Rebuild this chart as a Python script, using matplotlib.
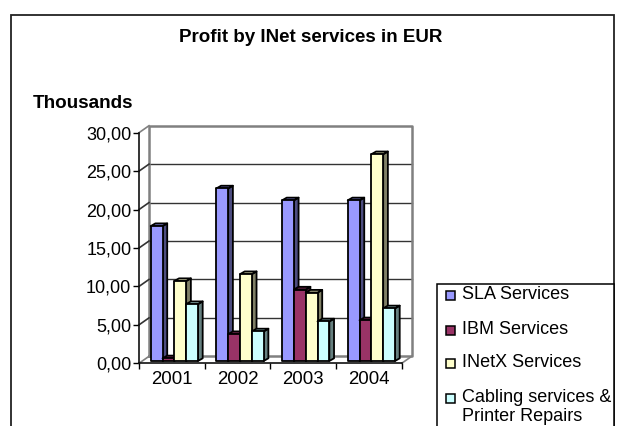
import matplotlib
matplotlib.use("Agg")
import matplotlib.pyplot as plt
from matplotlib.patches import Polygon, Rectangle
from matplotlib.transforms import Affine2D
from matplotlib.colors import to_rgb

plt.rcParams['font.family'] = ['Liberation Sans', 'DejaVu Sans']

years = ['2001', '2002', '2003', '2004']
series = ['SLA Services', 'IBM Services', 'INetX Services', 'Cabling services &\nPrinter Repairs']
sla = [17.55, 22.45, 20.9, 20.9]
ibm = [0.35, 3.5, 9.3, 5.3]
inetx = [10.4, 11.3, 8.9, 26.9]
cabling = [7.4, 3.85, 5.15, 6.85]
values = [sla, ibm, inetx, cabling]
colors = ['#9999FF', '#993366', '#FFFFCC', '#CCFFFF']
yticks = [0, 5, 10, 15, 20, 25, 30]
title = 'Profit by INet services in EUR'
unit = 'Thousands'

W, H = 622, 426
FS = 13
fig = plt.figure(figsize=(W / 100, H / 100), dpi=100, facecolor='white')

pg = fig.add_axes([0, 0, 1, 1], zorder=0)
pg.set_xlim(0, W); pg.set_ylim(H, 0); pg.axis('off')
pg.add_patch(Rectangle((11, 15), 603, 500, fc='white', ec='#222222', lw=1.3))
pg.text(311, 37, title, ha='center', va='center', fontsize=13.5, fontweight='bold', color='black')
pg.text(33, 103, unit, ha='left', va='center', fontsize=13.6, fontweight='bold', color='black')

L, R, T, B = 139, 401.7, 132.7, 363.3
ax = fig.add_axes([L / W, 1 - B / H, (R - L) / W, (B - T) / H], zorder=1)
ax.patch.set_alpha(0)
ax.set_xlim(0, 4); ax.set_ylim(0, 30)
for s in ['top', 'right']:
    ax.spines[s].set_visible(False)
for s in ['left', 'bottom']:
    ax.spines[s].set_linewidth(1.2); ax.spines[s].set_color('#111111')
ax.set_yticks(yticks)
ax.set_yticklabels([f'{v:.2f}'.replace('.', ',') for v in yticks], fontsize=FS)
ax.set_xticks(range(5)); ax.set_xticklabels([])
ax.tick_params(axis='both', length=4, width=1, pad=1.5)
for i, y in enumerate(years):
    ax.text(i + 0.5, -0.95, y, ha='center', va='top', fontsize=13.4)

DX, DY = 10, 7
base = ax.transData
back = base + Affine2D().translate(DX, DY)
wc = '#808080'
inv = ax.transData.inverted()
for v in yticks[1:-1]:
    ax.plot([0, 4], [v, v], transform=back, color='#333333', lw=1.0, clip_on=False, zorder=1)
ax.plot([0, 4, 4, 0, 0], [0, 0, 30, 30, 0], transform=back, color=wc, lw=1.8, clip_on=False, zorder=1.5)
for x, v in [(0, t) for t in yticks] + [(4, 0)]:
    x0, y0 = base.transform((x, v))
    pts = [(x0, y0), (x0 + DX, y0 + DY)]
    ax.plot(*zip(*inv.transform(pts)), color=wc if v in (0, 30) else '#333333', lw=1.2,
            clip_on=False, zorder=1.5)

bw = 0.18
ddx, ddy = 4.7, 2.7
ox, oy = 2.5, 2.3

def shade(c, f):
    return tuple(v * f for v in to_rgb(c))

def P(pts, fc, zz):
    ax.add_patch(Polygon(inv.transform(pts), closed=True, fc=fc, ec='black', lw=1.3,
                         clip_on=False, zorder=zz, joinstyle='round'))

for k, (vals, col) in enumerate(zip(values, colors)):
    for i, v in enumerate(vals):
        x0 = i + 0.5 - 2 * bw + k * bw
        x1 = x0 + bw
        (px0, py0) = base.transform((x0, 0))
        (px1, py1) = base.transform((x1, v))
        px0 += ox; px1 += ox; py0 += oy; py1 += oy
        z = 3 + i * 2 + k * 0.1
        P([(px1, py0), (px1 + ddx, py0 + ddy), (px1 + ddx, py1 + ddy), (px1, py1)], shade(col, 0.5), z)
        P([(px0, py1), (px1, py1), (px1 + ddx, py1 + ddy), (px0 + ddx, py1 + ddy)], shade(col, 0.75), z)
        P([(px0, py0), (px1, py0), (px1, py1), (px0, py1)], col, z + 0.01)

pg2 = fig.add_axes([0, 0, 1, 1], zorder=2)
pg2.set_xlim(0, W); pg2.set_ylim(H, 0); pg2.axis('off')
pg2.add_patch(Rectangle((437, 283.5), 177, 200, fc='white', ec='black', lw=1.1))
ly = [294, 329, 362, 397]
for y, name, col in zip(ly, series, colors):
    pg2.add_patch(Rectangle((445.5, y - 3.5), 9, 9, fc=col, ec='black', lw=1.1))
    pg2.text(462, y - 8, name, ha='left', va='top', fontsize=FS, linespacing=1.15)

fig.savefig('out.png', dpi=100)
